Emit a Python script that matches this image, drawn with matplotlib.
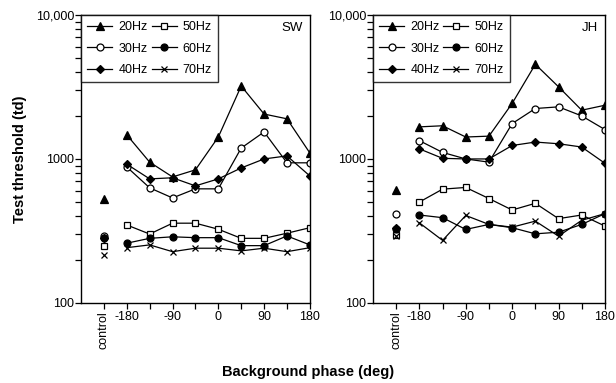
import matplotlib.pyplot as plt
from matplotlib.ticker import FixedLocator, LogLocator, NullFormatter

plt.rcParams['font.family'] = ['Liberation Sans', 'DejaVu Sans']

phase = [-180, -135, -90, -45, 0, 45, 90, 135, 180]
control_x = -225
freqs = ['20Hz', '30Hz', '40Hz', '50Hz', '60Hz', '70Hz']

# subject SW
sw = {
    '20Hz': [1470, 950, 750, 840, 1420, 3210, 2050, 1900, 1100],
    '30Hz': [880, 630, 536, 620, 620, 1190, 1540, 940, 940],
    '40Hz': [920, 727, 740, 650, 727, 866, 1000, 1050, 762],
    '50Hz': [348, 301, 358, 358, 325, 281, 281, 305, 333],
    '60Hz': [260, 281, 288, 284, 284, 250, 250, 292, 253],
    '70Hz': [242, 253, 227, 240, 240, 230, 240, 227, 242],
}
sw_control = [524, 294, 282, 249, 284, 217]

# subject JH
jh = {
    '20Hz': [1670, 1700, 1420, 1440, 2430, 4540, 3170, 2180, 2360],
    '30Hz': [1340, 1110, 1000, 950, 1760, 2240, 2300, 1990, 1600],
    '40Hz': [1175, 1010, 1000, 1000, 1240, 1310, 1275, 1210, 933],
    '50Hz': [502, 617, 634, 531, 442, 492, 385, 408, 342],
    '60Hz': [408, 391, 324, 351, 333, 302, 310, 351, 417],
    '70Hz': [360, 272, 405, 351, 336, 370, 291, 375, 417],
}
jh_control = [611, 413, 334, 295, 325, 292]

styles = {
    '20Hz': dict(marker='^', mfc='black', ms=5.5),
    '30Hz': dict(marker='o', mfc='white', ms=5),
    '40Hz': dict(marker='D', mfc='black', ms=4.2),
    '50Hz': dict(marker='s', mfc='white', ms=5),
    '60Hz': dict(marker='o', mfc='black', ms=5),
    '70Hz': dict(marker='x', mfc='black', ms=5),
}


def panel(ax, data, control, name):
    for i, f in enumerate(freqs):
        st = styles[f]
        ax.plot(phase, data[f], color='black', lw=0.9, mec='black',
                mew=0.9, label=f, **st)
        ax.plot([control_x], [control[i]], ls='none', color='black',
                mec='black', mew=0.9, **st)
    ax.set_yscale('log')
    ax.set_ylim(100, 10000)
    ax.set_xlim(-270, 180)
    ax.yaxis.set_major_locator(FixedLocator([100, 1000, 10000]))
    ax.set_yticklabels(['100', '1000', '10,000'])
    ax.yaxis.set_minor_locator(LogLocator(base=10, subs=range(2, 10)))
    ax.yaxis.set_minor_formatter(NullFormatter())
    ax.set_xticks([control_x, -180, -90, 0, 90, 180])
    ax.set_xticklabels(['control', '-180', '-90', '0', '90', '180'])
    ax.set_xticks([-135, -45, 45, 135], minor=True)
    ax.get_xticklabels()[0].set_rotation(90)
    ax.get_xticklabels()[0].set_va('top')
    ax.tick_params(axis='both', which='major', labelsize=9, length=4,
                   width=0.9, direction='out', pad=2)
    ax.tick_params(axis='both', which='minor', length=4, width=0.9,
                   direction='out')
    ax.tick_params(axis='y', which='major', pad=1)
    for s in ax.spines.values():
        s.set_linewidth(1.0)
    ax.text(0.97, 0.975, name, transform=ax.transAxes, ha='right', va='top',
            fontsize=9.5)
    leg = ax.legend(loc='upper left', ncol=2, fontsize=9, frameon=True,
                    fancybox=False, edgecolor='black', handlelength=2,
                    handletextpad=0.5, columnspacing=0.3, borderaxespad=0,
                    labelspacing=0.75, borderpad=0.5)
    leg.get_frame().set_linewidth(1.0)


fig = plt.figure(figsize=(6.16, 3.83), dpi=100)
ax1 = fig.add_axes([0.1315, 0.209, 0.3715, 0.752])
ax2 = fig.add_axes([0.6055, 0.209, 0.3765, 0.752])
panel(ax1, sw, sw_control, 'SW')
panel(ax2, jh, jh_control, 'JH')

ax1.set_ylabel('Test threshold (td)', fontsize=10.5, fontweight='bold',
               labelpad=6)
fig.text(0.5, 0.028, 'Background phase (deg)', ha='center', va='center',
         fontsize=10.5, fontweight='bold')

fig.savefig('out.png', dpi=100)
